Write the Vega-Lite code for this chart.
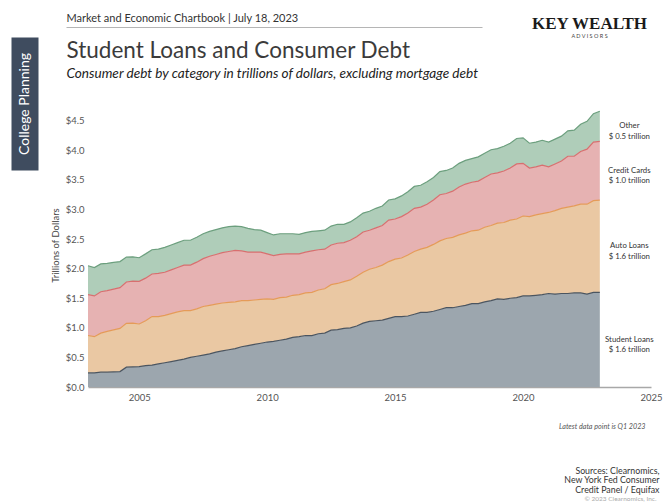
{
  "$schema": "https://vega.github.io/schema/vega-lite/v6.json",
  "width": 563,
  "height": 284,
  "autosize": {"type": "none"},
  "padding": {"left": 88, "top": 103, "right": 12, "bottom": 116},
  "background": "#ffffff",
  "config": {"view": {"stroke": null}, "font": "Lato", "axis": {"grid": false}},
  "data": {"values": [
    {"t":2003,"s":"Student Loans","k":1,"v":0.24},{"t":2003,"s":"Auto Loans","k":2,"v":0.63},{"t":2003,"s":"Credit Cards","k":3,"v":0.69},{"t":2003,"s":"Other","k":4,"v":0.49},
    {"t":2003.25,"s":"Student Loans","k":1,"v":0.24},{"t":2003.25,"s":"Auto Loans","k":2,"v":0.61},{"t":2003.25,"s":"Credit Cards","k":3,"v":0.69},{"t":2003.25,"s":"Other","k":4,"v":0.48},
    {"t":2003.5,"s":"Student Loans","k":1,"v":0.25},{"t":2003.5,"s":"Auto Loans","k":2,"v":0.66},{"t":2003.5,"s":"Credit Cards","k":3,"v":0.70},{"t":2003.5,"s":"Other","k":4,"v":0.47},
    {"t":2003.75,"s":"Student Loans","k":1,"v":0.25},{"t":2003.75,"s":"Auto Loans","k":2,"v":0.69},{"t":2003.75,"s":"Credit Cards","k":3,"v":0.69},{"t":2003.75,"s":"Other","k":4,"v":0.46},
    {"t":2004,"s":"Student Loans","k":1,"v":0.255},{"t":2004,"s":"Auto Loans","k":2,"v":0.71},{"t":2004,"s":"Credit Cards","k":3,"v":0.69},{"t":2004,"s":"Other","k":4,"v":0.45},
    {"t":2004.25,"s":"Student Loans","k":1,"v":0.26},{"t":2004.25,"s":"Auto Loans","k":2,"v":0.73},{"t":2004.25,"s":"Credit Cards","k":3,"v":0.69},{"t":2004.25,"s":"Other","k":4,"v":0.44},
    {"t":2004.5,"s":"Student Loans","k":1,"v":0.335},{"t":2004.5,"s":"Auto Loans","k":2,"v":0.74},{"t":2004.5,"s":"Credit Cards","k":3,"v":0.70},{"t":2004.5,"s":"Other","k":4,"v":0.42},
    {"t":2004.75,"s":"Student Loans","k":1,"v":0.34},{"t":2004.75,"s":"Auto Loans","k":2,"v":0.74},{"t":2004.75,"s":"Credit Cards","k":3,"v":0.71},{"t":2004.75,"s":"Other","k":4,"v":0.41},
    {"t":2005,"s":"Student Loans","k":1,"v":0.345},{"t":2005,"s":"Auto Loans","k":2,"v":0.72},{"t":2005,"s":"Credit Cards","k":3,"v":0.72},{"t":2005,"s":"Other","k":4,"v":0.40},
    {"t":2005.25,"s":"Student Loans","k":1,"v":0.36},{"t":2005.25,"s":"Auto Loans","k":2,"v":0.76},{"t":2005.25,"s":"Credit Cards","k":3,"v":0.72},{"t":2005.25,"s":"Other","k":4,"v":0.41},
    {"t":2005.5,"s":"Student Loans","k":1,"v":0.37},{"t":2005.5,"s":"Auto Loans","k":2,"v":0.82},{"t":2005.5,"s":"Credit Cards","k":3,"v":0.72},{"t":2005.5,"s":"Other","k":4,"v":0.41},
    {"t":2005.75,"s":"Student Loans","k":1,"v":0.39},{"t":2005.75,"s":"Auto Loans","k":2,"v":0.80},{"t":2005.75,"s":"Credit Cards","k":3,"v":0.73},{"t":2005.75,"s":"Other","k":4,"v":0.41},
    {"t":2006,"s":"Student Loans","k":1,"v":0.41},{"t":2006,"s":"Auto Loans","k":2,"v":0.80},{"t":2006,"s":"Credit Cards","k":3,"v":0.73},{"t":2006,"s":"Other","k":4,"v":0.42},
    {"t":2006.25,"s":"Student Loans","k":1,"v":0.43},{"t":2006.25,"s":"Auto Loans","k":2,"v":0.81},{"t":2006.25,"s":"Credit Cards","k":3,"v":0.74},{"t":2006.25,"s":"Other","k":4,"v":0.42},
    {"t":2006.5,"s":"Student Loans","k":1,"v":0.45},{"t":2006.5,"s":"Auto Loans","k":2,"v":0.82},{"t":2006.5,"s":"Credit Cards","k":3,"v":0.75},{"t":2006.5,"s":"Other","k":4,"v":0.42},
    {"t":2006.75,"s":"Student Loans","k":1,"v":0.47},{"t":2006.75,"s":"Auto Loans","k":2,"v":0.82},{"t":2006.75,"s":"Credit Cards","k":3,"v":0.77},{"t":2006.75,"s":"Other","k":4,"v":0.42},
    {"t":2007,"s":"Student Loans","k":1,"v":0.50},{"t":2007,"s":"Auto Loans","k":2,"v":0.79},{"t":2007,"s":"Credit Cards","k":3,"v":0.77},{"t":2007,"s":"Other","k":4,"v":0.42},
    {"t":2007.25,"s":"Student Loans","k":1,"v":0.52},{"t":2007.25,"s":"Auto Loans","k":2,"v":0.80},{"t":2007.25,"s":"Credit Cards","k":3,"v":0.79},{"t":2007.25,"s":"Other","k":4,"v":0.42},
    {"t":2007.5,"s":"Student Loans","k":1,"v":0.54},{"t":2007.5,"s":"Auto Loans","k":2,"v":0.82},{"t":2007.5,"s":"Credit Cards","k":3,"v":0.81},{"t":2007.5,"s":"Other","k":4,"v":0.42},
    {"t":2007.75,"s":"Student Loans","k":1,"v":0.56},{"t":2007.75,"s":"Auto Loans","k":2,"v":0.82},{"t":2007.75,"s":"Credit Cards","k":3,"v":0.83},{"t":2007.75,"s":"Other","k":4,"v":0.42},
    {"t":2008,"s":"Student Loans","k":1,"v":0.59},{"t":2008,"s":"Auto Loans","k":2,"v":0.81},{"t":2008,"s":"Credit Cards","k":3,"v":0.84},{"t":2008,"s":"Other","k":4,"v":0.42},
    {"t":2008.25,"s":"Student Loans","k":1,"v":0.61},{"t":2008.25,"s":"Auto Loans","k":2,"v":0.81},{"t":2008.25,"s":"Credit Cards","k":3,"v":0.85},{"t":2008.25,"s":"Other","k":4,"v":0.42},
    {"t":2008.5,"s":"Student Loans","k":1,"v":0.63},{"t":2008.5,"s":"Auto Loans","k":2,"v":0.80},{"t":2008.5,"s":"Credit Cards","k":3,"v":0.86},{"t":2008.5,"s":"Other","k":4,"v":0.42},
    {"t":2008.75,"s":"Student Loans","k":1,"v":0.65},{"t":2008.75,"s":"Auto Loans","k":2,"v":0.79},{"t":2008.75,"s":"Credit Cards","k":3,"v":0.87},{"t":2008.75,"s":"Other","k":4,"v":0.41},
    {"t":2009,"s":"Student Loans","k":1,"v":0.68},{"t":2009,"s":"Auto Loans","k":2,"v":0.78},{"t":2009,"s":"Credit Cards","k":3,"v":0.84},{"t":2009,"s":"Other","k":4,"v":0.41},
    {"t":2009.25,"s":"Student Loans","k":1,"v":0.70},{"t":2009.25,"s":"Auto Loans","k":2,"v":0.76},{"t":2009.25,"s":"Credit Cards","k":3,"v":0.82},{"t":2009.25,"s":"Other","k":4,"v":0.40},
    {"t":2009.5,"s":"Student Loans","k":1,"v":0.72},{"t":2009.5,"s":"Auto Loans","k":2,"v":0.75},{"t":2009.5,"s":"Credit Cards","k":3,"v":0.81},{"t":2009.5,"s":"Other","k":4,"v":0.38},
    {"t":2009.75,"s":"Student Loans","k":1,"v":0.74},{"t":2009.75,"s":"Auto Loans","k":2,"v":0.74},{"t":2009.75,"s":"Credit Cards","k":3,"v":0.80},{"t":2009.75,"s":"Other","k":4,"v":0.37},
    {"t":2010,"s":"Student Loans","k":1,"v":0.76},{"t":2010,"s":"Auto Loans","k":2,"v":0.73},{"t":2010,"s":"Credit Cards","k":3,"v":0.76},{"t":2010,"s":"Other","k":4,"v":0.36},
    {"t":2010.25,"s":"Student Loans","k":1,"v":0.77},{"t":2010.25,"s":"Auto Loans","k":2,"v":0.71},{"t":2010.25,"s":"Credit Cards","k":3,"v":0.74},{"t":2010.25,"s":"Other","k":4,"v":0.35},
    {"t":2010.5,"s":"Student Loans","k":1,"v":0.79},{"t":2010.5,"s":"Auto Loans","k":2,"v":0.72},{"t":2010.5,"s":"Credit Cards","k":3,"v":0.73},{"t":2010.5,"s":"Other","k":4,"v":0.35},
    {"t":2010.75,"s":"Student Loans","k":1,"v":0.81},{"t":2010.75,"s":"Auto Loans","k":2,"v":0.71},{"t":2010.75,"s":"Credit Cards","k":3,"v":0.73},{"t":2010.75,"s":"Other","k":4,"v":0.34},
    {"t":2011,"s":"Student Loans","k":1,"v":0.84},{"t":2011,"s":"Auto Loans","k":2,"v":0.71},{"t":2011,"s":"Credit Cards","k":3,"v":0.70},{"t":2011,"s":"Other","k":4,"v":0.34},
    {"t":2011.25,"s":"Student Loans","k":1,"v":0.85},{"t":2011.25,"s":"Auto Loans","k":2,"v":0.71},{"t":2011.25,"s":"Credit Cards","k":3,"v":0.69},{"t":2011.25,"s":"Other","k":4,"v":0.33},
    {"t":2011.5,"s":"Student Loans","k":1,"v":0.87},{"t":2011.5,"s":"Auto Loans","k":2,"v":0.72},{"t":2011.5,"s":"Credit Cards","k":3,"v":0.69},{"t":2011.5,"s":"Other","k":4,"v":0.33},
    {"t":2011.75,"s":"Student Loans","k":1,"v":0.87},{"t":2011.75,"s":"Auto Loans","k":2,"v":0.73},{"t":2011.75,"s":"Credit Cards","k":3,"v":0.70},{"t":2011.75,"s":"Other","k":4,"v":0.33},
    {"t":2012,"s":"Student Loans","k":1,"v":0.90},{"t":2012,"s":"Auto Loans","k":2,"v":0.74},{"t":2012,"s":"Credit Cards","k":3,"v":0.68},{"t":2012,"s":"Other","k":4,"v":0.32},
    {"t":2012.25,"s":"Student Loans","k":1,"v":0.91},{"t":2012.25,"s":"Auto Loans","k":2,"v":0.75},{"t":2012.25,"s":"Credit Cards","k":3,"v":0.67},{"t":2012.25,"s":"Other","k":4,"v":0.32},
    {"t":2012.5,"s":"Student Loans","k":1,"v":0.96},{"t":2012.5,"s":"Auto Loans","k":2,"v":0.77},{"t":2012.5,"s":"Credit Cards","k":3,"v":0.67},{"t":2012.5,"s":"Other","k":4,"v":0.32},
    {"t":2012.75,"s":"Student Loans","k":1,"v":0.97},{"t":2012.75,"s":"Auto Loans","k":2,"v":0.78},{"t":2012.75,"s":"Credit Cards","k":3,"v":0.68},{"t":2012.75,"s":"Other","k":4,"v":0.32},
    {"t":2013,"s":"Student Loans","k":1,"v":0.99},{"t":2013,"s":"Auto Loans","k":2,"v":0.79},{"t":2013,"s":"Credit Cards","k":3,"v":0.66},{"t":2013,"s":"Other","k":4,"v":0.31},
    {"t":2013.25,"s":"Student Loans","k":1,"v":1.00},{"t":2013.25,"s":"Auto Loans","k":2,"v":0.81},{"t":2013.25,"s":"Credit Cards","k":3,"v":0.67},{"t":2013.25,"s":"Other","k":4,"v":0.31},
    {"t":2013.5,"s":"Student Loans","k":1,"v":1.03},{"t":2013.5,"s":"Auto Loans","k":2,"v":0.84},{"t":2013.5,"s":"Credit Cards","k":3,"v":0.67},{"t":2013.5,"s":"Other","k":4,"v":0.32},
    {"t":2013.75,"s":"Student Loans","k":1,"v":1.08},{"t":2013.75,"s":"Auto Loans","k":2,"v":0.86},{"t":2013.75,"s":"Credit Cards","k":3,"v":0.68},{"t":2013.75,"s":"Other","k":4,"v":0.32},
    {"t":2014,"s":"Student Loans","k":1,"v":1.11},{"t":2014,"s":"Auto Loans","k":2,"v":0.88},{"t":2014,"s":"Credit Cards","k":3,"v":0.66},{"t":2014,"s":"Other","k":4,"v":0.32},
    {"t":2014.25,"s":"Student Loans","k":1,"v":1.12},{"t":2014.25,"s":"Auto Loans","k":2,"v":0.90},{"t":2014.25,"s":"Credit Cards","k":3,"v":0.67},{"t":2014.25,"s":"Other","k":4,"v":0.33},
    {"t":2014.5,"s":"Student Loans","k":1,"v":1.13},{"t":2014.5,"s":"Auto Loans","k":2,"v":0.93},{"t":2014.5,"s":"Credit Cards","k":3,"v":0.67},{"t":2014.5,"s":"Other","k":4,"v":0.33},
    {"t":2014.75,"s":"Student Loans","k":1,"v":1.16},{"t":2014.75,"s":"Auto Loans","k":2,"v":0.96},{"t":2014.75,"s":"Credit Cards","k":3,"v":0.70},{"t":2014.75,"s":"Other","k":4,"v":0.34},
    {"t":2015,"s":"Student Loans","k":1,"v":1.19},{"t":2015,"s":"Auto Loans","k":2,"v":0.97},{"t":2015,"s":"Credit Cards","k":3,"v":0.68},{"t":2015,"s":"Other","k":4,"v":0.34},
    {"t":2015.25,"s":"Student Loans","k":1,"v":1.19},{"t":2015.25,"s":"Auto Loans","k":2,"v":0.99},{"t":2015.25,"s":"Credit Cards","k":3,"v":0.70},{"t":2015.25,"s":"Other","k":4,"v":0.35},
    {"t":2015.5,"s":"Student Loans","k":1,"v":1.20},{"t":2015.5,"s":"Auto Loans","k":2,"v":1.03},{"t":2015.5,"s":"Credit Cards","k":3,"v":0.71},{"t":2015.5,"s":"Other","k":4,"v":0.36},
    {"t":2015.75,"s":"Student Loans","k":1,"v":1.23},{"t":2015.75,"s":"Auto Loans","k":2,"v":1.06},{"t":2015.75,"s":"Credit Cards","k":3,"v":0.73},{"t":2015.75,"s":"Other","k":4,"v":0.37},
    {"t":2016,"s":"Student Loans","k":1,"v":1.26},{"t":2016,"s":"Auto Loans","k":2,"v":1.07},{"t":2016,"s":"Credit Cards","k":3,"v":0.71},{"t":2016,"s":"Other","k":4,"v":0.37},
    {"t":2016.25,"s":"Student Loans","k":1,"v":1.26},{"t":2016.25,"s":"Auto Loans","k":2,"v":1.10},{"t":2016.25,"s":"Credit Cards","k":3,"v":0.73},{"t":2016.25,"s":"Other","k":4,"v":0.38},
    {"t":2016.5,"s":"Student Loans","k":1,"v":1.28},{"t":2016.5,"s":"Auto Loans","k":2,"v":1.13},{"t":2016.5,"s":"Credit Cards","k":3,"v":0.75},{"t":2016.5,"s":"Other","k":4,"v":0.38},
    {"t":2016.75,"s":"Student Loans","k":1,"v":1.31},{"t":2016.75,"s":"Auto Loans","k":2,"v":1.16},{"t":2016.75,"s":"Credit Cards","k":3,"v":0.78},{"t":2016.75,"s":"Other","k":4,"v":0.39},
    {"t":2017,"s":"Student Loans","k":1,"v":1.34},{"t":2017,"s":"Auto Loans","k":2,"v":1.17},{"t":2017,"s":"Credit Cards","k":3,"v":0.76},{"t":2017,"s":"Other","k":4,"v":0.39},
    {"t":2017.25,"s":"Student Loans","k":1,"v":1.34},{"t":2017.25,"s":"Auto Loans","k":2,"v":1.19},{"t":2017.25,"s":"Credit Cards","k":3,"v":0.78},{"t":2017.25,"s":"Other","k":4,"v":0.39},
    {"t":2017.5,"s":"Student Loans","k":1,"v":1.36},{"t":2017.5,"s":"Auto Loans","k":2,"v":1.21},{"t":2017.5,"s":"Credit Cards","k":3,"v":0.81},{"t":2017.5,"s":"Other","k":4,"v":0.40},
    {"t":2017.75,"s":"Student Loans","k":1,"v":1.38},{"t":2017.75,"s":"Auto Loans","k":2,"v":1.22},{"t":2017.75,"s":"Credit Cards","k":3,"v":0.83},{"t":2017.75,"s":"Other","k":4,"v":0.40},
    {"t":2018,"s":"Student Loans","k":1,"v":1.41},{"t":2018,"s":"Auto Loans","k":2,"v":1.23},{"t":2018,"s":"Credit Cards","k":3,"v":0.82},{"t":2018,"s":"Other","k":4,"v":0.40},
    {"t":2018.25,"s":"Student Loans","k":1,"v":1.41},{"t":2018.25,"s":"Auto Loans","k":2,"v":1.24},{"t":2018.25,"s":"Credit Cards","k":3,"v":0.83},{"t":2018.25,"s":"Other","k":4,"v":0.41},
    {"t":2018.5,"s":"Student Loans","k":1,"v":1.44},{"t":2018.5,"s":"Auto Loans","k":2,"v":1.26},{"t":2018.5,"s":"Credit Cards","k":3,"v":0.84},{"t":2018.5,"s":"Other","k":4,"v":0.41},
    {"t":2018.75,"s":"Student Loans","k":1,"v":1.46},{"t":2018.75,"s":"Auto Loans","k":2,"v":1.27},{"t":2018.75,"s":"Credit Cards","k":3,"v":0.87},{"t":2018.75,"s":"Other","k":4,"v":0.41},
    {"t":2019,"s":"Student Loans","k":1,"v":1.49},{"t":2019,"s":"Auto Loans","k":2,"v":1.28},{"t":2019,"s":"Credit Cards","k":3,"v":0.85},{"t":2019,"s":"Other","k":4,"v":0.41},
    {"t":2019.25,"s":"Student Loans","k":1,"v":1.48},{"t":2019.25,"s":"Auto Loans","k":2,"v":1.30},{"t":2019.25,"s":"Credit Cards","k":3,"v":0.87},{"t":2019.25,"s":"Other","k":4,"v":0.42},
    {"t":2019.5,"s":"Student Loans","k":1,"v":1.50},{"t":2019.5,"s":"Auto Loans","k":2,"v":1.32},{"t":2019.5,"s":"Credit Cards","k":3,"v":0.88},{"t":2019.5,"s":"Other","k":4,"v":0.42},
    {"t":2019.75,"s":"Student Loans","k":1,"v":1.51},{"t":2019.75,"s":"Auto Loans","k":2,"v":1.33},{"t":2019.75,"s":"Credit Cards","k":3,"v":0.93},{"t":2019.75,"s":"Other","k":4,"v":0.43},
    {"t":2020,"s":"Student Loans","k":1,"v":1.54},{"t":2020,"s":"Auto Loans","k":2,"v":1.35},{"t":2020,"s":"Credit Cards","k":3,"v":0.89},{"t":2020,"s":"Other","k":4,"v":0.43},
    {"t":2020.25,"s":"Student Loans","k":1,"v":1.54},{"t":2020.25,"s":"Auto Loans","k":2,"v":1.34},{"t":2020.25,"s":"Credit Cards","k":3,"v":0.82},{"t":2020.25,"s":"Other","k":4,"v":0.42},
    {"t":2020.5,"s":"Student Loans","k":1,"v":1.55},{"t":2020.5,"s":"Auto Loans","k":2,"v":1.36},{"t":2020.5,"s":"Credit Cards","k":3,"v":0.81},{"t":2020.5,"s":"Other","k":4,"v":0.42},
    {"t":2020.75,"s":"Student Loans","k":1,"v":1.56},{"t":2020.75,"s":"Auto Loans","k":2,"v":1.37},{"t":2020.75,"s":"Credit Cards","k":3,"v":0.82},{"t":2020.75,"s":"Other","k":4,"v":0.42},
    {"t":2021,"s":"Student Loans","k":1,"v":1.58},{"t":2021,"s":"Auto Loans","k":2,"v":1.37},{"t":2021,"s":"Credit Cards","k":3,"v":0.77},{"t":2021,"s":"Other","k":4,"v":0.42},
    {"t":2021.25,"s":"Student Loans","k":1,"v":1.57},{"t":2021.25,"s":"Auto Loans","k":2,"v":1.41},{"t":2021.25,"s":"Credit Cards","k":3,"v":0.79},{"t":2021.25,"s":"Other","k":4,"v":0.42},
    {"t":2021.5,"s":"Student Loans","k":1,"v":1.58},{"t":2021.5,"s":"Auto Loans","k":2,"v":1.44},{"t":2021.5,"s":"Credit Cards","k":3,"v":0.80},{"t":2021.5,"s":"Other","k":4,"v":0.42},
    {"t":2021.75,"s":"Student Loans","k":1,"v":1.58},{"t":2021.75,"s":"Auto Loans","k":2,"v":1.46},{"t":2021.75,"s":"Credit Cards","k":3,"v":0.86},{"t":2021.75,"s":"Other","k":4,"v":0.43},
    {"t":2022,"s":"Student Loans","k":1,"v":1.59},{"t":2022,"s":"Auto Loans","k":2,"v":1.47},{"t":2022,"s":"Credit Cards","k":3,"v":0.84},{"t":2022,"s":"Other","k":4,"v":0.44},
    {"t":2022.25,"s":"Student Loans","k":1,"v":1.59},{"t":2022.25,"s":"Auto Loans","k":2,"v":1.50},{"t":2022.25,"s":"Credit Cards","k":3,"v":0.89},{"t":2022.25,"s":"Other","k":4,"v":0.46},
    {"t":2022.5,"s":"Student Loans","k":1,"v":1.57},{"t":2022.5,"s":"Auto Loans","k":2,"v":1.52},{"t":2022.5,"s":"Credit Cards","k":3,"v":0.93},{"t":2022.5,"s":"Other","k":4,"v":0.47},
    {"t":2022.75,"s":"Student Loans","k":1,"v":1.60},{"t":2022.75,"s":"Auto Loans","k":2,"v":1.55},{"t":2022.75,"s":"Credit Cards","k":3,"v":0.99},{"t":2022.75,"s":"Other","k":4,"v":0.48},
    {"t":2023,"s":"Student Loans","k":1,"v":1.60},{"t":2023,"s":"Auto Loans","k":2,"v":1.56},{"t":2023,"s":"Credit Cards","k":3,"v":0.99},{"t":2023,"s":"Other","k":4,"v":0.51}
  ]},
  "layer": [
    {
      "transform": [{"stack": "v", "groupby": ["t"], "sort": [{"field": "k", "order": "ascending"}], "as": ["v0", "v1"]}],
      "mark": {"type": "area", "opacity": 1},
      "encoding": {
        "x": {"field": "t", "type": "quantitative", "scale": {"domain": [2003, 2025], "nice": false, "zero": false},
          "axis": {"orient": "bottom", "values": [2005, 2010, 2015, 2020, 2025], "format": "d", "labelFlush": false, "ticks": false, "domain": true, "domainColor": "#a8a8a8", "domainWidth": 1.5, "labelFont": "Lato", "labelFontSize": 9.5, "labelColor": "#555555", "labelPadding": 5,
            "title": "Latest data point is Q1 2023", "titleFont": "Lato", "titleFontSize": 7.2, "titleFontStyle": "italic", "titleFontWeight": "normal", "titleColor": "#555555", "titleAlign": "right", "titleAnchor": null, "titleX": 557, "titleY": 41, "titleBaseline": "alphabetic"}},
        "y": {"field": "v1", "type": "quantitative", "scale": {"domain": [0, 4.8], "nice": false, "zero": true},
          "axis": {"orient": "left", "values": [0, 0.5, 1, 1.5, 2, 2.5, 3, 3.5, 4, 4.5], "format": "$.1f", "ticks": false, "domain": false, "labelFont": "Lato", "labelFontSize": 9.5, "labelColor": "#555555", "labelPadding": 4,
            "title": "Trillions of Dollars", "titleFont": "Lato", "titleFontSize": 9.5, "titleFontWeight": "normal", "titleColor": "#444444", "titlePadding": 5}},
        "y2": {"field": "v0"},
        "fill": {"field": "s", "type": "nominal", "legend": null,
          "scale": {"domain": ["Student Loans", "Auto Loans", "Credit Cards", "Other"], "range": ["#9ca6ae", "#eac8a3", "#e6b2b2", "#afcdb9"]}}
      }
    },
    {
      "transform": [{"stack": "v", "groupby": ["t"], "sort": [{"field": "k", "order": "ascending"}], "as": ["v0", "v1"]}],
      "mark": {"type": "line", "strokeWidth": 1.2},
      "encoding": {
        "x": {"field": "t", "type": "quantitative", "scale": {"domain": [2003, 2025], "nice": false, "zero": false}, "axis": null},
        "y": {"field": "v1", "type": "quantitative", "scale": {"domain": [0, 4.8], "nice": false, "zero": true}, "axis": null},
        "stroke": {"field": "s", "type": "nominal", "legend": null,
          "scale": {"domain": ["Student Loans", "Auto Loans", "Credit Cards", "Other"], "range": ["#4b5560", "#e59b58", "#d86f6f", "#6c9f7e"]}}
      }
    },
    {
      "transform": [
        {"stack": "v", "groupby": ["t"], "sort": [{"field": "k", "order": "ascending"}], "as": ["v0", "v1"]},
        {"filter": "datum.t === 2023"},
        {"calculate": "(datum.v0 + datum.v1) / 2", "as": "mid"},
        {"calculate": "[datum.s, '$ ' + format(datum.v, '.1f') + ' trillion']", "as": "lbl"}
      ],
      "mark": {"type": "text", "dx": 29.5, "font": "Lato", "fontSize": 7.8, "lineHeight": 10.5, "color": "#333333", "align": "center", "baseline": "middle"},
      "encoding": {
        "x": {"field": "t", "type": "quantitative", "scale": {"domain": [2003, 2025], "nice": false, "zero": false}, "axis": null},
        "y": {"field": "mid", "type": "quantitative", "scale": {"domain": [0, 4.8], "nice": false, "zero": true}, "axis": null},
        "text": {"field": "lbl"}
      }
    },
    {
      "transform": [{"filter": "datum.t === 2023 && datum.k === 1"}],
      "mark": {"type": "rule", "opacity": 0},
      "encoding": {
        "x": {"field": "v", "type": "quantitative", "scale": {"domain": [0, 1], "range": [-22, 394], "nice": false, "zero": false},
          "axis": {"orient": "top", "offset": 76, "domain": true, "domainColor": "#b5b5b5", "domainWidth": 1, "ticks": false, "labels": false,
            "title": "Market and Economic Chartbook | July 18, 2023", "titleFont": "Lato", "titleFontSize": 11, "titleFontWeight": "normal", "titleColor": "#333333", "titleAlign": "left", "titleAnchor": null, "titleX": -22, "titleY": -6, "titleBaseline": "alphabetic"}}
      }
    },
    {
      "transform": [{"filter": "datum.t === 2023 && datum.k === 1"}],
      "mark": {"type": "rule", "opacity": 0},
      "encoding": {
        "x": {"field": "v", "type": "quantitative", "scale": {"domain": [0, 1], "nice": false, "zero": false},
          "axis": {"orient": "top", "domain": false, "ticks": false, "labels": false,
            "title": "Student Loans and Consumer Debt", "titleFont": "Lato", "titleFontSize": 22.5, "titleFontWeight": "normal", "titleColor": "#3b3b3b", "titleAlign": "left", "titleAnchor": null, "titleX": -22, "titleY": -46, "titleBaseline": "alphabetic"}}
      }
    },
    {
      "transform": [{"filter": "datum.t === 2023 && datum.k === 1"}],
      "mark": {"type": "rule", "opacity": 0},
      "encoding": {
        "x": {"field": "v", "type": "quantitative", "scale": {"domain": [0, 1], "nice": false, "zero": false},
          "axis": {"orient": "top", "domain": false, "ticks": false, "labels": false,
            "title": "Consumer debt by category in trillions of dollars, excluding mortgage debt", "titleFont": "Lato", "titleFontSize": 13.6, "titleFontStyle": "italic", "titleFontWeight": "normal", "titleColor": "#222222", "titleAlign": "left", "titleAnchor": null, "titleX": -22, "titleY": -26, "titleBaseline": "alphabetic"}}
      }
    },
    {
      "transform": [{"filter": "datum.t === 2023 && datum.k === 1"}],
      "mark": {"type": "rule", "opacity": 0},
      "encoding": {
        "x": {"field": "v", "type": "quantitative", "scale": {"domain": [0, 1], "nice": false, "zero": false},
          "axis": {"orient": "top", "domain": false, "ticks": false, "labels": false,
            "title": "KEY WEALTH", "titleFont": "Liberation Serif", "titleFontSize": 17, "titleFontWeight": "bold", "titleColor": "#1a1a1a", "titleAlign": "center", "titleAnchor": null, "titleX": 501, "titleY": -75, "titleBaseline": "alphabetic"}}
      }
    },
    {
      "transform": [{"filter": "datum.t === 2023 && datum.k === 1"}],
      "mark": {"type": "rule", "opacity": 0},
      "encoding": {
        "x": {"field": "v", "type": "quantitative", "scale": {"domain": [0, 1], "nice": false, "zero": false},
          "axis": {"orient": "top", "domain": false, "ticks": false, "labels": false,
            "title": "A D V I S O R S", "titleFont": "Lato", "titleFontSize": 5.5, "titleFontWeight": "normal", "titleColor": "#444444", "titleAlign": "center", "titleAnchor": null, "titleX": 501, "titleY": -66, "titleBaseline": "alphabetic"}}
      }
    },
    {
      "transform": [{"filter": "datum.t === 2023 && datum.k === 1"}],
      "mark": {"type": "rule", "opacity": 0},
      "encoding": {
        "x": {"field": "v", "type": "quantitative", "scale": {"domain": [0, 1], "nice": false, "zero": false},
          "axis": {"orient": "bottom", "domain": false, "ticks": false, "labels": false,
            "title": ["Sources: Clearnomics,", "New York Fed Consumer", "Credit Panel / Equifax"], "titleFont": "Lato", "titleFontSize": 8.8, "titleLineHeight": 9.8, "titleFontWeight": "normal", "titleColor": "#333333", "titleAlign": "right", "titleAnchor": null, "titleX": 571, "titleY": 86, "titleBaseline": "alphabetic"}}
      }
    },
    {
      "transform": [{"filter": "datum.t === 2023 && datum.k === 1"}],
      "mark": {"type": "rule", "opacity": 0},
      "encoding": {
        "x": {"field": "v", "type": "quantitative", "scale": {"domain": [0, 1], "nice": false, "zero": false},
          "axis": {"orient": "bottom", "domain": false, "ticks": false, "labels": false,
            "title": "© 2023 Clearnomics, Inc.", "titleFont": "Lato", "titleFontSize": 6.5, "titleFontWeight": "normal", "titleColor": "#aaaaaa", "titleAlign": "right", "titleAnchor": null, "titleX": 568, "titleY": 113.5, "titleBaseline": "alphabetic"}}
      }
    },
    {
      "transform": [{"filter": "datum.t === 2023 && datum.k === 1"}],
      "mark": {"type": "rule", "opacity": 0},
      "encoding": {
        "y": {"field": "v", "type": "quantitative", "scale": {"domain": [0, 1], "range": [67, -66], "nice": false, "zero": false},
          "axis": {"orient": "left", "offset": 63.5, "domain": true, "domainColor": "#3f4c5f", "domainWidth": 27, "ticks": false, "labels": false,
            "title": "College Planning", "titleFont": "Lato", "titleFontSize": 14, "titleFontWeight": "normal", "titleColor": "#ffffff", "titleAngle": 270, "titleAlign": "center", "titleAnchor": null, "titleX": 0, "titleY": 0.5, "titleBaseline": "middle"}}
      }
    }
  ],
  "resolve": {"scale": {"x": "independent", "y": "independent"}, "axis": {"x": "independent", "y": "independent"}}
}
